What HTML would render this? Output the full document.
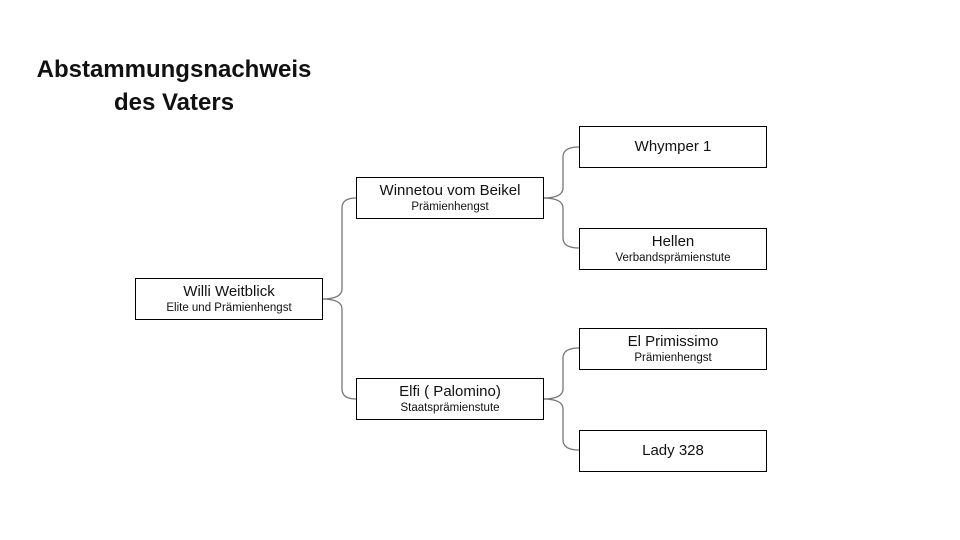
<!DOCTYPE html>
<html><head><meta charset="utf-8"><style>
body{margin:0;width:960px;height:540px;background:#fff;position:relative;overflow:hidden;font-family:"Liberation Sans",sans-serif;}
.t{position:absolute;font-weight:bold;font-size:24px;color:#111;text-align:center;width:300px;left:24px;top:53px;line-height:33px}
.b{position:absolute;border:1.5px solid #000;box-sizing:border-box;background:#fff;text-align:center;color:#111;display:flex;flex-direction:column;justify-content:center;width:188px;height:42px}
.m{font-size:15px;line-height:18px}
.s{font-size:11.5px;line-height:14px}
</style></head><body>
<div class="t">Abstammungsnachweis<br>des Vaters</div>
<svg width="960" height="540" style="position:absolute;left:0;top:0" fill="none" stroke="#777" stroke-width="1.3">
<path d="M322,299 Q342,299 342,289 L342,208 Q342,198 356,198"/>
<path d="M322,299 Q342,299 342,309 L342,389 Q342,399 356,399"/>
<path d="M543,198 Q563,198 563,188 L563,157 Q563,147 579,147"/>
<path d="M543,198 Q563,198 563,208 L563,238 Q563,248 579,248"/>
<path d="M543,399 Q563,399 563,389 L563,358 Q563,348 579,348"/>
<path d="M543,399 Q563,399 563,409 L563,440 Q563,450 579,450"/>
</svg>
<div class="b" style="left:135px;top:278px"><div class="m">Willi Weitblick</div><div class="s">Elite und Prämienhengst</div></div>
<div class="b" style="left:356px;top:177px"><div class="m">Winnetou vom Beikel</div><div class="s">Prämienhengst</div></div>
<div class="b" style="left:356px;top:378px"><div class="m">Elfi ( Palomino)</div><div class="s">Staatsprämienstute</div></div>
<div class="b" style="left:579px;top:126px"><div class="m">Whymper 1</div></div>
<div class="b" style="left:579px;top:228px"><div class="m">Hellen</div><div class="s">Verbandsprämienstute</div></div>
<div class="b" style="left:579px;top:328px"><div class="m">El Primissimo</div><div class="s">Prämienhengst</div></div>
<div class="b" style="left:579px;top:430px"><div class="m">Lady 328</div></div>
</body></html>
